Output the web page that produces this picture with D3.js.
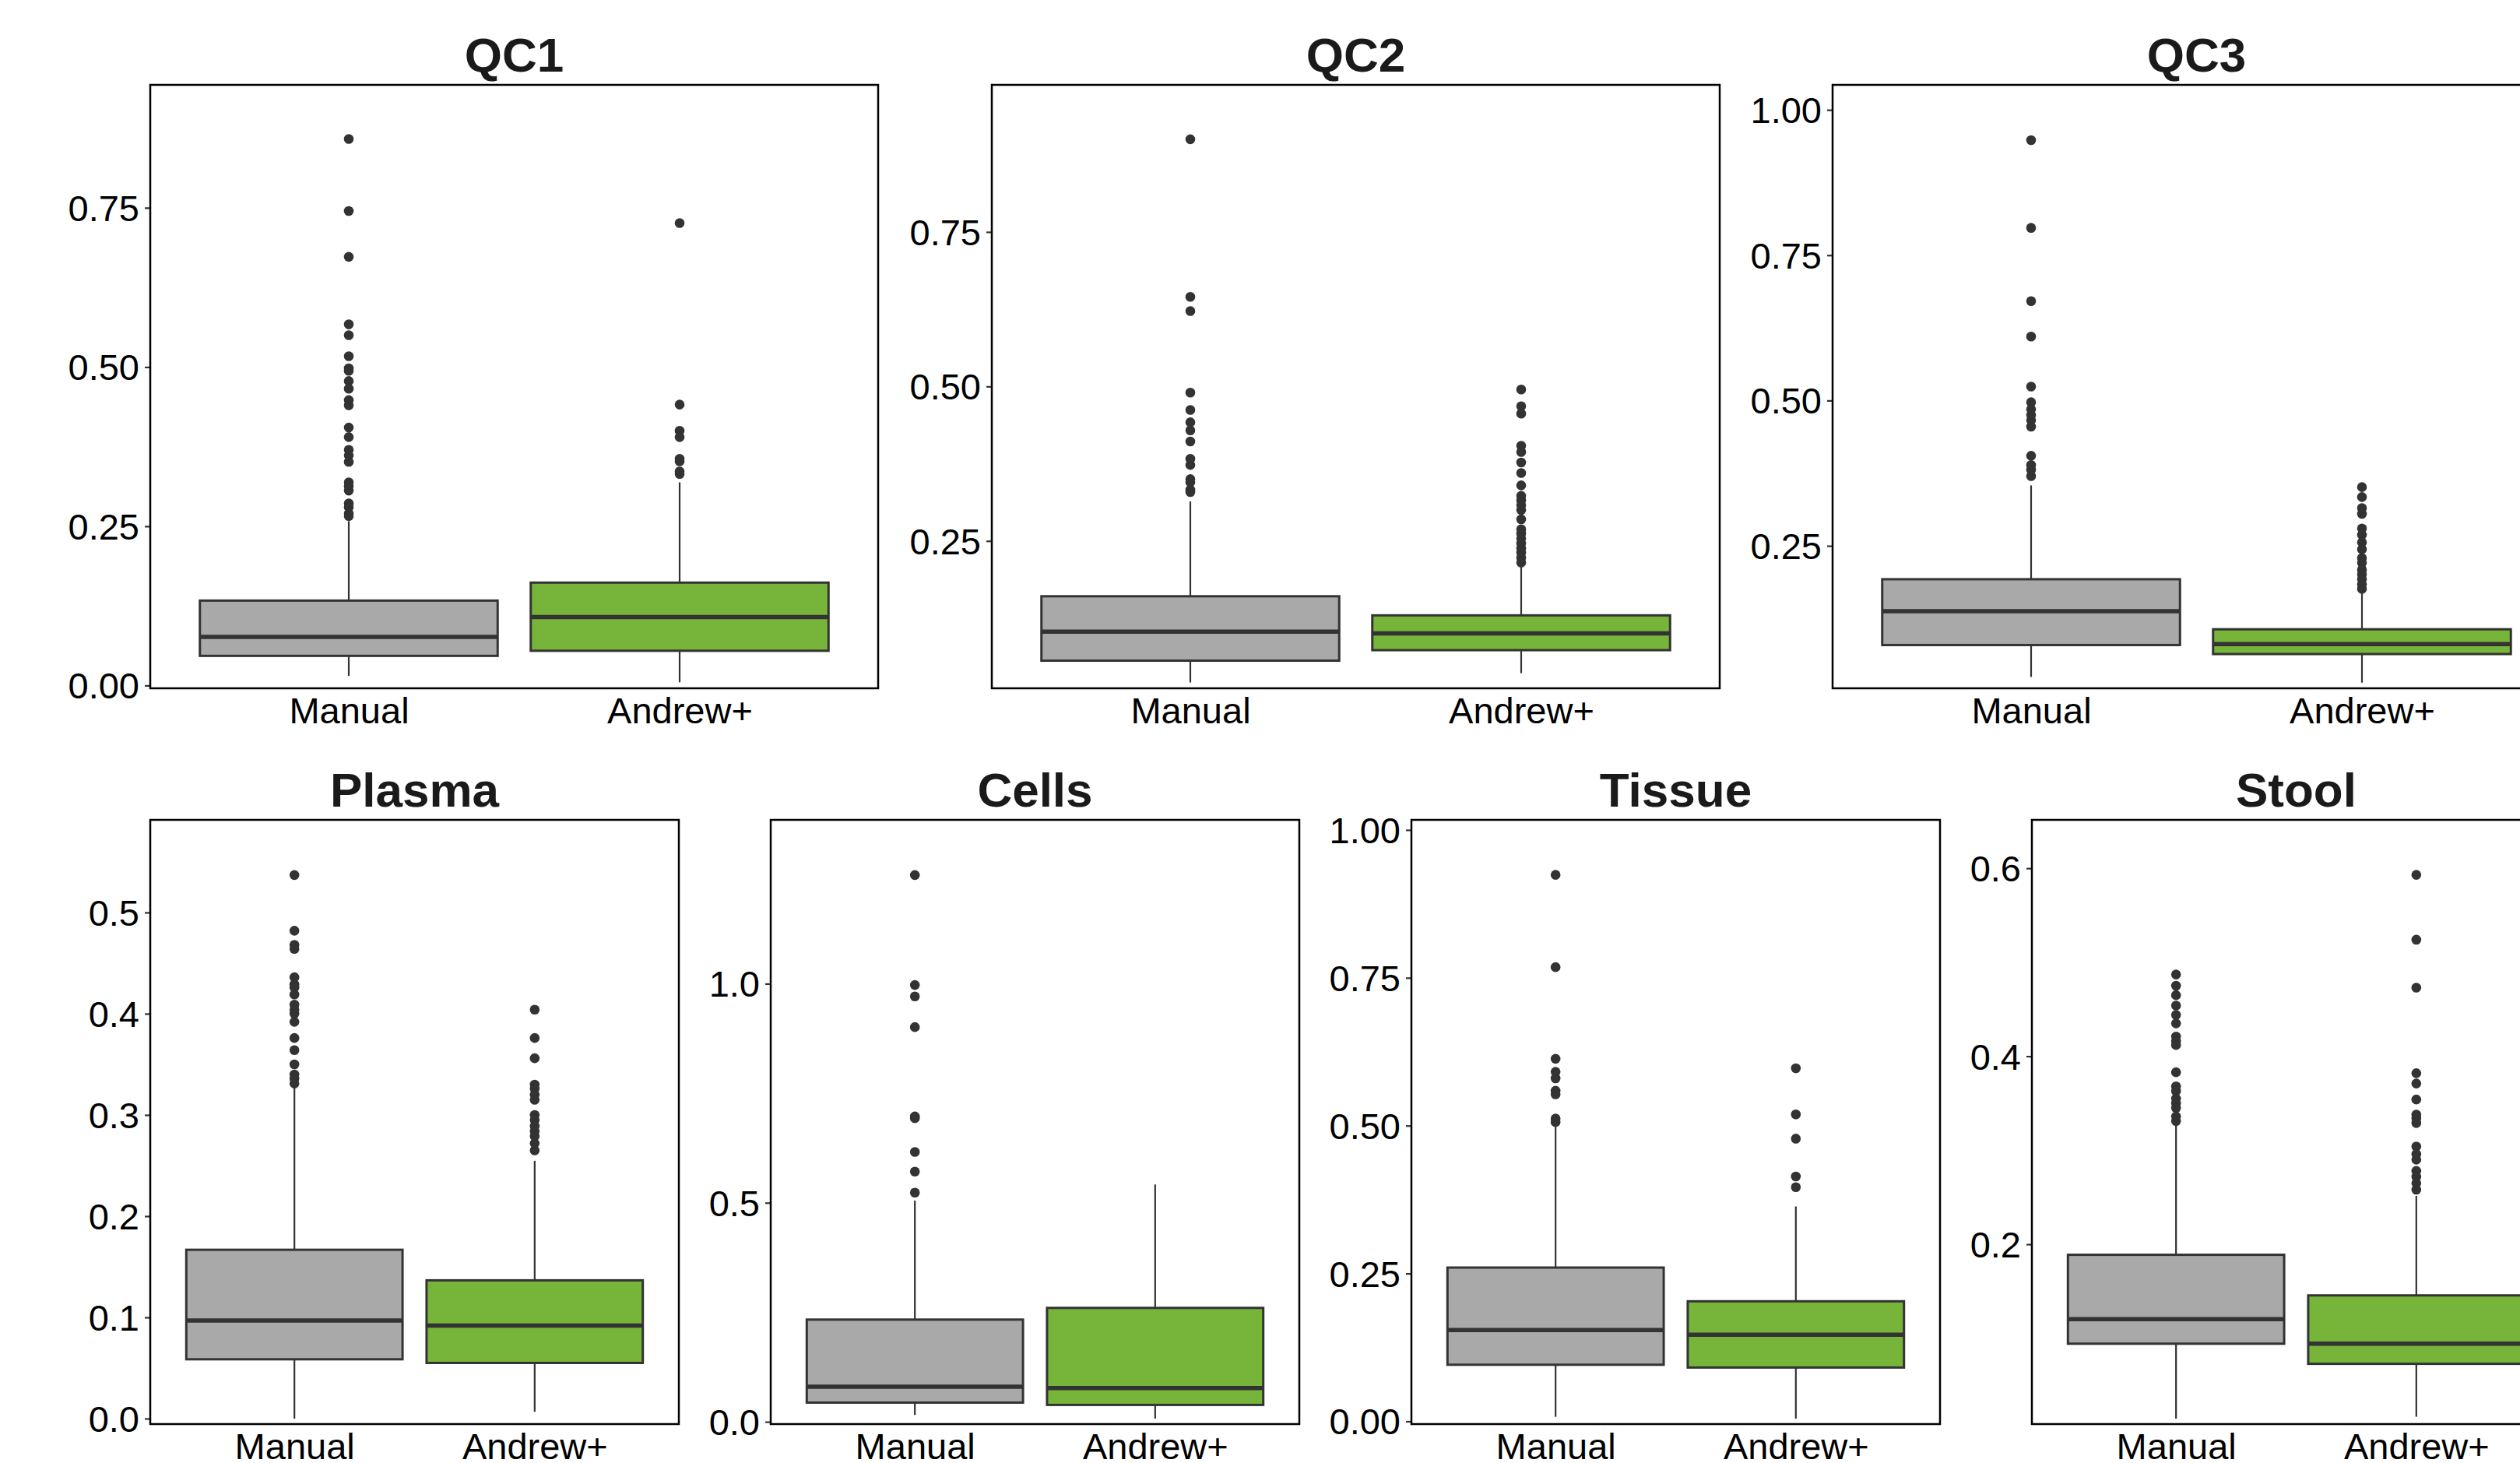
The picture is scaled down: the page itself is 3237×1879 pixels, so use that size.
<!DOCTYPE html>
<html>
<head>
<meta charset="utf-8">
<script src="https://cdn.jsdelivr.net/npm/d3@7"></script>
<style>
  html, body { margin: 0; padding: 0; background: #ffffff; }
  svg { display: block; }
</style>
</head>
<body>
<script>
// ---------------- DATA ----------------
const panelNames = ["QC1", "QC2", "QC3", "Plasma", "Cells", "Tissue", "Stool"];
const groups = ["Manual", "Andrew+"];

// box stats: [lowerWhisker, Q1, median, Q3, upperWhisker]
const manualStats = [
  [0.015, 0.0465, 0.0764, 0.1333, 0.258],
  [0.021, 0.0563, 0.1034, 0.1605, 0.314],
  [0.0245, 0.0794, 0.1376, 0.1926, 0.354],
  [0.000, 0.0586, 0.0969, 0.1668, 0.329],
  [0.0156, 0.0438, 0.080, 0.2333, 0.505],
  [0.0077, 0.0957, 0.1543, 0.260, 0.498],
  [0.0146, 0.0942, 0.1204, 0.1888, 0.327]
];
const andrewStats = [
  [0.005, 0.0545, 0.1076, 0.1615, 0.319],
  [0.036, 0.0733, 0.1003, 0.1296, 0.211],
  [0.0147, 0.0639, 0.0811, 0.1065, 0.172],
  [0.0068, 0.055, 0.092, 0.1366, 0.2547],
  [0.0073, 0.0385, 0.077, 0.260, 0.5417],
  [0.0046, 0.091, 0.1466, 0.203, 0.3634],
  [0.0165, 0.0728, 0.0942, 0.1456, 0.2515]
];

const manualOutliers = [
  [0.858, 0.745, 0.673, 0.567, 0.550, 0.517, 0.498, 0.494, 0.478, 0.466, 0.448, 0.440, 0.405, 0.390, 0.370, 0.361, 0.351, 0.319, 0.313, 0.306, 0.286, 0.280, 0.270, 0.266],
  [0.900, 0.645, 0.622, 0.490, 0.462, 0.442, 0.429, 0.411, 0.383, 0.373, 0.350, 0.345, 0.333, 0.329],
  [0.948, 0.797, 0.671, 0.610, 0.524, 0.497, 0.485, 0.475, 0.466, 0.455, 0.405, 0.389, 0.381, 0.370],
  [0.537, 0.482, 0.468, 0.464, 0.436, 0.429, 0.426, 0.419, 0.409, 0.404, 0.400, 0.392, 0.376, 0.364, 0.350, 0.340, 0.336, 0.331],
  [1.248, 0.997, 0.971, 0.901, 0.697, 0.693, 0.616, 0.571, 0.523],
  [0.924, 0.768, 0.613, 0.591, 0.580, 0.559, 0.553, 0.512, 0.506],
  [0.487, 0.475, 0.465, 0.454, 0.444, 0.435, 0.421, 0.416, 0.412, 0.383, 0.368, 0.363, 0.355, 0.350, 0.345, 0.336, 0.331]
];
const andrewOutliers = [
  [0.726, 0.441, 0.400, 0.390, 0.356, 0.352, 0.336, 0.332],
  [0.495, 0.468, 0.456, 0.404, 0.394, 0.377, 0.360, 0.340, 0.323, 0.316, 0.308, 0.300, 0.285, 0.269, 0.262, 0.254, 0.246, 0.238, 0.231, 0.223, 0.215],
  [0.351, 0.334, 0.315, 0.305, 0.280, 0.269, 0.256, 0.244, 0.229, 0.221, 0.209, 0.201, 0.193, 0.184, 0.176],
  [0.404, 0.376, 0.356, 0.330, 0.326, 0.320, 0.315, 0.300, 0.295, 0.289, 0.284, 0.279, 0.272, 0.265],
  [],
  [0.597, 0.519, 0.478, 0.414, 0.396],
  [0.593, 0.524, 0.473, 0.382, 0.371, 0.354, 0.338, 0.334, 0.329, 0.304, 0.296, 0.290, 0.278, 0.272, 0.265, 0.258]
];

const yDomains = [
  [-0.0044, 0.943],
  [0.0116, 0.988],
  [0.005, 1.043],
  [-0.0054, 0.5915],
  [-0.0052, 1.374],
  [-0.0046, 1.017],
  [0.0087, 0.6515]
];
const yTicks = [
  [0, 0.25, 0.5, 0.75],
  [0.25, 0.5, 0.75],
  [0.25, 0.5, 0.75, 1.0],
  [0, 0.1, 0.2, 0.3, 0.4, 0.5],
  [0, 0.5, 1.0],
  [0, 0.25, 0.5, 0.75, 1.0],
  [0.2, 0.4, 0.6]
];
const tickFormats = [".2f", ".2f", ".2f", ".1f", ".1f", ".2f", ".1f"];

// ---------------- LAYOUT ----------------
const W = 3237, H = 1879;
const frames = [
  { x: 193, y: 109, w: 935, h: 775 },
  { x: 1274, y: 109, w: 935, h: 775 },
  { x: 2354, y: 109, w: 935, h: 775 },
  { x: 193, y: 1053, w: 679, h: 776 },
  { x: 990, y: 1053, w: 679, h: 776 },
  { x: 1813, y: 1053, w: 679, h: 776 },
  { x: 2610, y: 1053, w: 679, h: 776 }
];
const fills = { "Manual": "#A9A9A9", "Andrew+": "#77B53A" };
const ink = "#333333";
const FONT = "'Liberation Sans', Arial, Helvetica, sans-serif";

const svg = d3.select("body").append("svg")
  .attr("width", W).attr("height", H)
  .attr("viewBox", `0 0 ${W} ${H}`);
svg.append("rect").attr("width", W).attr("height", H).attr("fill", "#ffffff");

panelNames.forEach((name, i) => {
  const f = frames[i];
  const g = svg.append("g").attr("transform", `translate(${f.x},${f.y})`);

  // ggplot-like discrete scale: categories at 1 and 2 with 0.6 expansion
  const x = d3.scaleLinear().domain([0.4, 2.6]).range([0, f.w]);
  const unit = x(2) - x(1);
  const boxW = 0.9 * unit;
  const y = d3.scaleLinear().domain(yDomains[i]).range([f.h, 0]);

  // Y axis
  const yAxis = d3.axisLeft(y).tickValues(yTicks[i])
    .tickFormat(d3.format(tickFormats[i])).tickSizeOuter(0).tickSizeInner(7).tickPadding(7);
  const ya = g.append("g").call(yAxis);
  ya.select(".domain").remove();
  ya.selectAll(".tick line").attr("stroke", ink).attr("stroke-width", 2.2);
  ya.selectAll(".tick text")
    .attr("font-family", FONT).attr("font-size", 47).attr("fill", "#000")
    .attr("dy", "0.35em");

  // X axis labels
  const xa = g.append("g").attr("transform", `translate(0,${f.h})`)
    .call(d3.axisBottom(x).tickValues([1, 2]).tickFormat(d => groups[d - 1])
      .tickSizeInner(0).tickSizeOuter(0).tickPadding(12));
  xa.select(".domain").remove();
  xa.selectAll(".tick text")
    .attr("font-family", FONT).attr("font-size", 47).attr("fill", "#000");

  const stats = [manualStats[i], andrewStats[i]];
  const outs = [manualOutliers[i], andrewOutliers[i]];

  groups.forEach((gname, k) => {
    const cx = x(k + 1);
    const s = stats[k];
    const bg = g.append("g");
    // whiskers
    bg.append("line").attr("x1", cx).attr("x2", cx)
      .attr("y1", y(s[0])).attr("y2", y(s[1]))
      .attr("stroke", ink).attr("stroke-width", 2.2);
    bg.append("line").attr("x1", cx).attr("x2", cx)
      .attr("y1", y(s[3])).attr("y2", y(s[4]))
      .attr("stroke", ink).attr("stroke-width", 2.2);
    // box
    bg.append("rect")
      .attr("x", cx - boxW / 2).attr("width", boxW)
      .attr("y", y(s[3])).attr("height", y(s[1]) - y(s[3]))
      .attr("fill", fills[gname]).attr("stroke", ink).attr("stroke-width", 3);
    // median
    bg.append("line").attr("x1", cx - boxW / 2).attr("x2", cx + boxW / 2)
      .attr("y1", y(s[2])).attr("y2", y(s[2]))
      .attr("stroke", ink).attr("stroke-width", 5.5);
    // outliers
    bg.selectAll("circle.out").data(outs[k]).enter().append("circle")
      .attr("class", "out")
      .attr("cx", cx).attr("cy", d => y(d)).attr("r", 6.3)
      .attr("fill", ink);
  });

  // panel border
  g.append("rect").attr("x", 0).attr("y", 0).attr("width", f.w).attr("height", f.h)
    .attr("fill", "none").attr("stroke", "#000").attr("stroke-width", 2.5);

  // title
  g.append("text")
    .attr("x", f.w / 2).attr("y", -17)
    .attr("text-anchor", "middle")
    .attr("font-family", FONT).attr("font-weight", "bold").attr("font-size", 62)
    .attr("fill", "#1a1a1a")
    .text(name);
});
</script>
</body>
</html>
